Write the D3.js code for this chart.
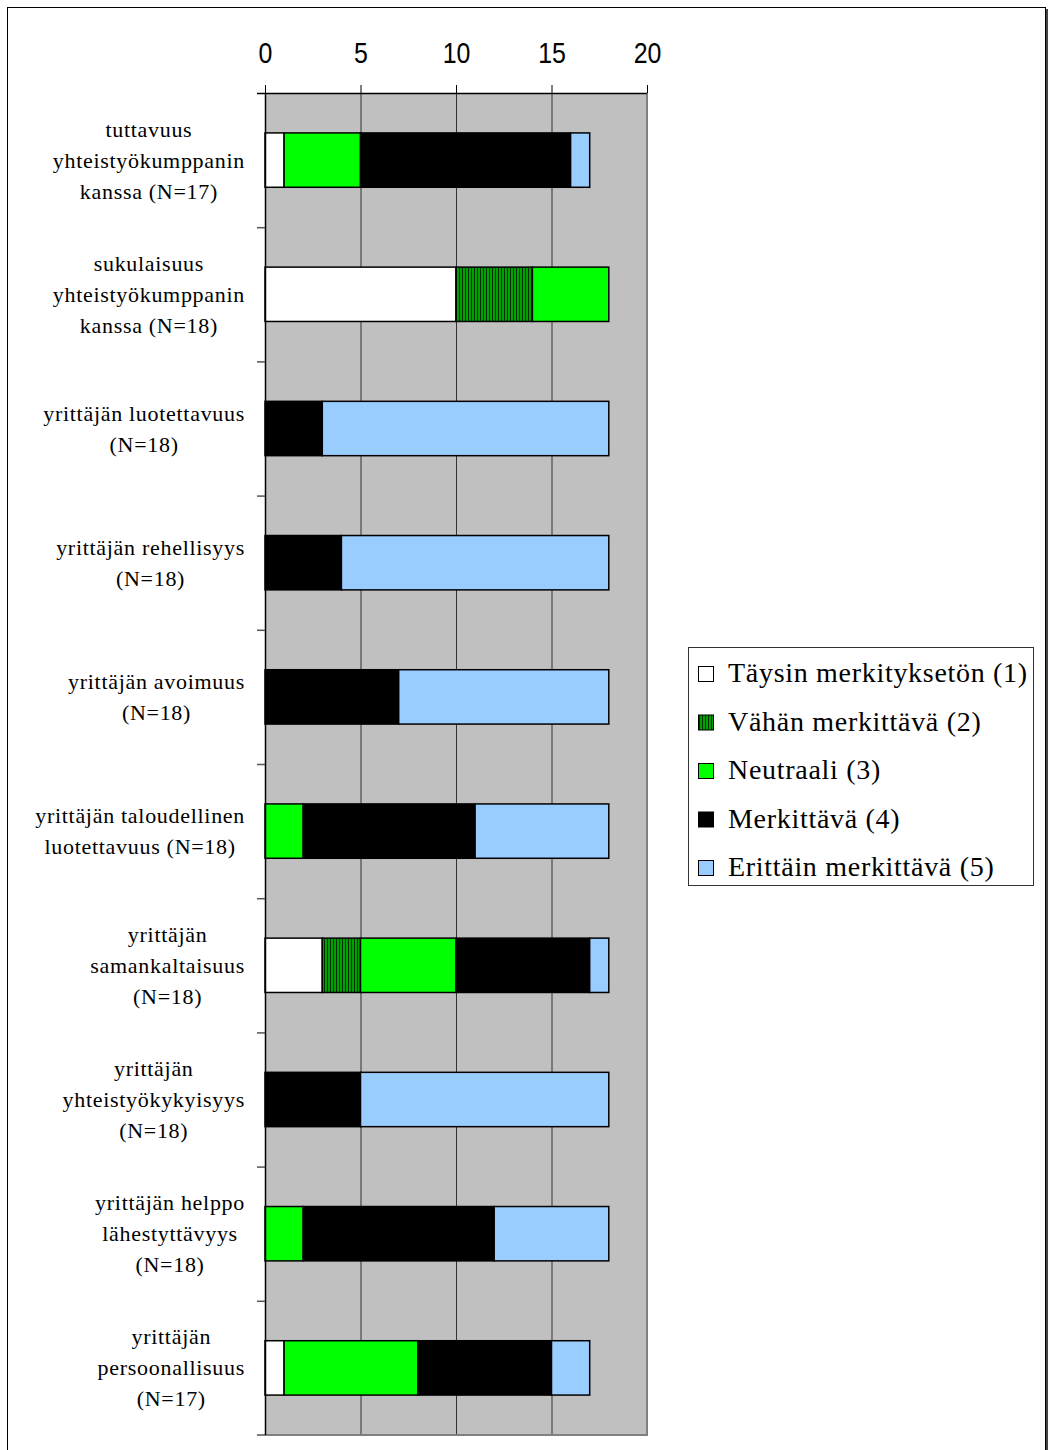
<!DOCTYPE html>
<html>
<head>
<meta charset="utf-8">
<script src="https://cdn.jsdelivr.net/npm/d3@7"></script>
<style>
  body { margin: 0; background: #fff; }
  svg { display: block; }
</style>
</head>
<body>
<svg id="chart"></svg>
<script>
'use strict';

// category labels, one array of lines per bar (top to bottom)
const categories = [
  ['tuttavuus', 'yhteistyökumppanin', 'kanssa (N=17)'],
  ['sukulaisuus', 'yhteistyökumppanin', 'kanssa (N=18)'],
  ['yrittäjän luotettavuus', '(N=18)'],
  ['yrittäjän rehellisyys', '(N=18)'],
  ['yrittäjän avoimuus', '(N=18)'],
  ['yrittäjän taloudellinen', 'luotettavuus (N=18)'],
  ['yrittäjän', 'samankaltaisuus', '(N=18)'],
  ['yrittäjän', 'yhteistyökykyisyys', '(N=18)'],
  ['yrittäjän helppo', 'lähestyttävyys', '(N=18)'],
  ['yrittäjän', 'persoonallisuus', '(N=17)']
];

// answer counts per series
const taysin     = [1, 10, 0, 0, 0, 0, 3, 0, 0, 1];
const vahan      = [0, 4, 0, 0, 0, 0, 2, 0, 0, 0];
const neutraali  = [4, 4, 0, 0, 0, 2, 5, 0, 2, 7];
const merkittava = [11, 0, 3, 4, 7, 9, 7, 5, 10, 7];
const erittain   = [1, 0, 15, 14, 11, 7, 1, 13, 6, 2];

const seriesNames = [
  'Täysin merkityksetön (1)',
  'Vähän merkittävä (2)',
  'Neutraali (3)',
  'Merkittävä (4)',
  'Erittäin merkittävä (5)'
];
const xTicks = [0, 5, 10, 15, 20];

const width = 1053, height = 1450;
const plot = { left: 265, right: 647, top: 93, bottom: 1435 };

const svg = d3.select('#chart')
    .attr('width', width)
    .attr('height', height);

// hatch for "Vähän merkittävä"
const defs = svg.append('defs');
const pat = defs.append('pattern')
    .attr('id', 'hatch')
    .attr('patternUnits', 'userSpaceOnUse')
    .attr('width', 3)
    .attr('height', 10);
pat.append('rect').attr('width', 3).attr('height', 10).attr('fill', '#00a000');
pat.append('rect').attr('width', 1).attr('height', 10).attr('fill', '#003000');

const fills = ['#ffffff', 'url(#hatch)', '#00ff00', '#000000', '#99ccff'];

// outer frame
svg.append('rect')
    .attr('x', 7.5).attr('y', 7.5)
    .attr('width', 1038).attr('height', 1460)
    .attr('fill', 'none')
    .attr('stroke', '#000')
    .attr('stroke-width', 1);
svg.append('line')
    .attr('x1', 1047).attr('x2', 1047)
    .attr('y1', 9).attr('y2', height)
    .attr('stroke', '#444').attr('stroke-width', 2);

const x = d3.scaleLinear()
    .domain([0, 20])
    .range([plot.left, plot.right]);

const y = d3.scaleBand()
    .domain(d3.range(categories.length))
    .range([plot.top, plot.bottom])
    .padding(0);

// plot background
svg.append('rect')
    .attr('x', plot.left).attr('y', plot.top)
    .attr('width', plot.right - plot.left)
    .attr('height', plot.bottom - plot.top)
    .attr('fill', '#c0c0c0');

// vertical gridlines
svg.append('g')
  .selectAll('line')
  .data(xTicks.slice(1, -1))
  .join('line')
    .attr('x1', d => x(d) + 0.5).attr('x2', d => x(d) + 0.5)
    .attr('y1', plot.top).attr('y2', plot.bottom)
    .attr('stroke', '#333')
    .attr('stroke-width', 1);

// plot border right / bottom
svg.append('path')
    .attr('d', `M${plot.right},${plot.top} V${plot.bottom} H${plot.left - 8}`)
    .attr('fill', 'none')
    .attr('stroke', '#808080')
    .attr('stroke-width', 2);

// stacked bars
const rows = categories.map((c, i) => ({
  i,
  s0: taysin[i], s1: vahan[i], s2: neutraali[i], s3: merkittava[i], s4: erittain[i]
}));
const stack = d3.stack().keys(['s0', 's1', 's2', 's3', 's4']);
const layers = stack(rows);

const barH = y.bandwidth() * 0.405;

svg.append('g')
  .selectAll('g')
  .data(layers)
  .join('g')
    .attr('fill', (d, k) => fills[k])
  .selectAll('rect')
  .data(d => d.filter(v => v[1] > v[0]))
  .join('rect')
    .attr('x', d => x(d[0]))
    .attr('y', d => y(d.data.i) + (y.bandwidth() - barH) / 2)
    .attr('width', d => x(d[1]) - x(d[0]))
    .attr('height', barH)
    .attr('stroke', '#000')
    .attr('stroke-width', 1.5);

// value axis at top
const xAxis = svg.append('g')
    .attr('transform', `translate(0, ${plot.top})`)
    .call(d3.axisTop(x).tickValues(xTicks).tickSize(8).tickSizeOuter(0));
xAxis.select('.domain').remove();
xAxis.selectAll('.tick line').attr('stroke', '#000');
xAxis.selectAll('.tick text')
    .attr('y', 0)
    .attr('dy', 0)
    .attr('transform', 'translate(0,-30) scale(0.86,1)')
    .attr('font-family', '"Liberation Sans", Arial, sans-serif')
    .attr('font-size', 29)
    .attr('fill', '#000');
svg.append('line')
    .attr('x1', plot.left - 8).attr('x2', plot.right)
    .attr('y1', plot.top + 0.5).attr('y2', plot.top + 0.5)
    .attr('stroke', '#000').attr('stroke-width', 1.5);

// category axis on the left
svg.append('line')
    .attr('x1', plot.left + 0.5).attr('x2', plot.left + 0.5)
    .attr('y1', plot.top).attr('y2', plot.bottom)
    .attr('stroke', '#000').attr('stroke-width', 1.5);
svg.append('g')
  .selectAll('line')
  .data(d3.range(1, categories.length))
  .join('line')
    .attr('x1', plot.left - 8).attr('x2', plot.left)
    .attr('y1', d => y(d) + 0.5).attr('y2', d => y(d) + 0.5)
    .attr('stroke', '#555').attr('stroke-width', 1.5);

// category labels: lines centred inside a right-aligned block
const lineGap = 31;
const labelRight = 245;
const labels = svg.append('g')
    .attr('font-family', '"Liberation Serif", "Times New Roman", serif')
    .attr('font-size', 22)
    .attr('letter-spacing', 0.7)
    .attr('fill', '#000');

categories.forEach((lines, i) => {
  const cy = y(i) + y.bandwidth() / 2;
  const g = labels.append('g');
  const t = g.selectAll('text')
    .data(lines)
    .join('text')
      .attr('text-anchor', 'middle')
      .attr('y', (d, j) => cy + (j - (lines.length - 1) / 2) * lineGap + 7.5)
      .text(d => d);
  let maxW = 0;
  t.each(function () { maxW = Math.max(maxW, this.getComputedTextLength()); });
  t.attr('x', labelRight - maxW / 2);
});

// legend
const legend = svg.append('g');
legend.append('rect')
    .attr('x', 688.5).attr('y', 647.5)
    .attr('width', 345).attr('height', 238)
    .attr('fill', '#fff')
    .attr('stroke', '#333')
    .attr('stroke-width', 1);

const item = legend.selectAll('g.item')
  .data(seriesNames)
  .join('g')
    .attr('class', 'item')
    .attr('transform', (d, k) => `translate(0, ${682 + k * 48.5})`);
item.append('rect')
    .attr('x', 698.5).attr('y', -15.5)
    .attr('width', 15).attr('height', 15)
    .attr('fill', (d, k) => fills[k])
    .attr('stroke', '#000')
    .attr('stroke-width', 1);
item.append('text')
    .attr('x', 728)
    .attr('font-family', '"Liberation Serif", "Times New Roman", serif')
    .attr('font-size', 28)
    .attr('letter-spacing', 0.7)
    .attr('fill', '#000')
    .text(d => d);
</script>
</body>
</html>
